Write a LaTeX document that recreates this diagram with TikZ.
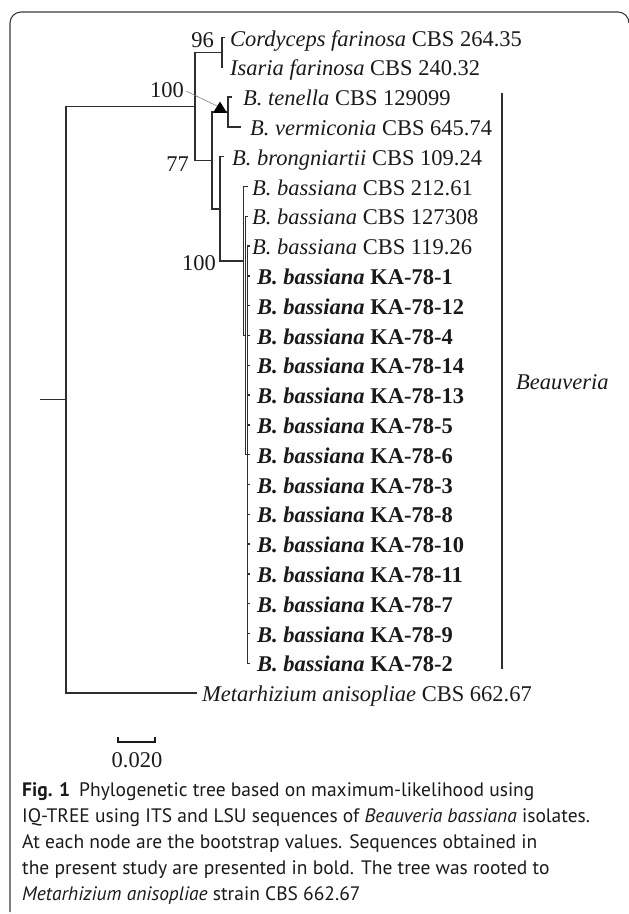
\documentclass[tikz,border=0pt]{standalone}
\usepackage{fontspec}
\usetikzlibrary{shapes.geometric}
\setmainfont{Liberation Serif}
\newfontfamily\capfont{PT Sans}
\definecolor{ink}{HTML}{1A1A1A}
\definecolor{brc}{HTML}{2E2E2E}
\definecolor{framec}{HTML}{3A3A3A}
\begin{document}
\begin{tikzpicture}[x=1pt,y=-1pt,
  br/.style={line width=1.3pt, draw=brc},
  leaf/.style={anchor=base west, inner sep=0pt, text=ink, font=\fontsize{22.5}{27}\selectfont},
  boot/.style={anchor=base east, inner sep=0pt, text=ink, font=\fontsize{22.5}{27}\selectfont},
  capline/.style={anchor=base west, inner sep=0pt, text=ink, font=\capfont\fontsize{19.5}{24}\selectfont}]
\useasboundingbox (0,0) rectangle (629,914);
% frame
\draw[framec, line width=1.1pt] (10,912) -- (10,23) arc[start angle=180, end angle=270, radius=11] -- (618,12) arc[start angle=270, end angle=360, radius=11];
% internal nodes
\coordinate (stub) at (40,399.7);
\coordinate (root) at (66,399.7);
\coordinate (nA) at (195,106.4);
\coordinate (nC) at (222,52.4);
\coordinate (nB) at (212,160.4);
\coordinate (nD) at (228,112);
\coordinate (nE) at (220,208.9);
\coordinate (nF) at (243.5,261);
\coordinate (nG) at (245.5,335.5);
\coordinate (nH) at (247.5,454.7);
% leaf branch ends
\coordinate (e0) at (225,37.5);
\coordinate (e1) at (223,67.3);
\coordinate (e2) at (232,97.1);
\coordinate (e3) at (241,126.9);
\coordinate (e4) at (224,156.7);
\coordinate (e5) at (248,186.5);
\coordinate (e6) at (248,216.3);
\coordinate (e7) at (250,246.1);
\foreach \i in {8,...,21}{\coordinate (e\i) at (250,{37.5+29.8*\i});}
\coordinate (e22) at (197,693.1);
% branches
\draw[br] (stub) -- (root);
\draw[br] (root) |- (nA);
\draw[br] (root) |- (e22);
\draw[br] (nA) |- (nC);
\draw[br] (nA) |- (nB);
\draw[br] (nC) |- (e0);
\draw[br] (nC) |- (e1);
\draw[br] (nB) |- (nD);
\draw[br] (nB) |- (nE);
\draw[br] (nD) |- (e2);
\draw[br] (nD) |- (e3);
\draw[br] (nE) |- (e4);
\draw[br] (nE) |- (nF);
\draw[br] (nF) |- (e5);
\draw[br] (nF) |- (nG);
\draw[br] (nG) |- (e6);
\draw[br] (nG) |- (nH);
\foreach \i in {7,...,21}{\draw[br] (nH) |- (e\i);}
% triangle marker and leader
\node[draw=none, fill=black, isosceles triangle, isosceles triangle apex angle=64, shape border rotate=90, minimum width=14pt, minimum height=11pt, inner sep=0pt, anchor=south] (tri) at (220,113) {};
\node[boot] (b100a) at (184,97.5) {100};
\draw[gray, line width=0.6pt] (b100a.east |- 0,91) ++(2,0) -- (tri.north west);
\node[boot] (b96) at (214,47.5) {96};
\node[boot] (b77) at (189,171.5) {77};
\node[boot] (b100b) at (216,270.5) {100};
% leaves
\node[leaf] (l0) at (230,46) {\textit{Cordyceps farinosa} CBS 264.35};
\node[leaf] (l1) at (230,75.8) {\textit{Isaria farinosa} CBS 240.32};
\node[leaf] (l2) at (243,105.6) {\textit{B. tenella} CBS 129099};
\node[leaf] (l3) at (250,135.4) {\textit{B. vermiconia} CBS 645.74};
\node[leaf] (l4) at (232,165.2) {\textit{B. brongniartii} CBS 109.24};
\node[leaf] (l5) at (252,195) {\textit{B. bassiana} CBS 212.61};
\node[leaf] (l6) at (252,224.8) {\textit{B. bassiana} CBS 127308};
\node[leaf] (l7) at (252,254.6) {\textit{B. bassiana} CBS 119.26};
\foreach \lab [count=\k from 8] in {1,12,4,14,13,5,6,3,8,10,11,7,9,2}{
  \node[leaf] (l\k) at (257,{37.5+29.8*\k+8.5}) {\textbf{\textit{B. bassiana} KA-78-\lab}};
}
\node[leaf] (l22) at (202,701.6) {\textit{Metarhizium anisopliae} CBS 662.67};
% Beauveria bracket
\coordinate (bt) at (502,93);
\coordinate (bb) at (502,669);
\draw[br] (bt) -- (bb);
\node[leaf] (beau) at (516,389.5) {\textit{Beauveria}};
% scale bar
\coordinate (s1) at (118,742);
\coordinate (s2) at (155,742);
\draw[ink, line width=1.2pt] (s1) ++(0,-5) -- ++(0,6) (s1) -- (s2) ++(0,-5) -- ++(0,6);
\node[anchor=base, inner sep=0pt, text=ink, font=\fontsize{22.5}{27}\selectfont] (sl) at (137,767.5) {0.020};
% caption
\node[capline] (c1) at (22,796) {\textbf{Fig. 1}\hspace{9pt}Phylogenetic tree based on maximum-likelihood using};
\node[capline] (c2) at (22,822) {IQ-TREE using ITS and LSU sequences of \textit{Beauveria bassiana} isolates.};
\node[capline] (c3) at (22,848) {At each node are the bootstrap values. Sequences obtained in};
\node[capline] (c4) at (22,874) {the present study are presented in bold. The tree was rooted to};
\node[capline] (c5) at (22,900) {\textit{Metarhizium anisopliae} strain CBS 662.67};
\end{tikzpicture}
\end{document}
